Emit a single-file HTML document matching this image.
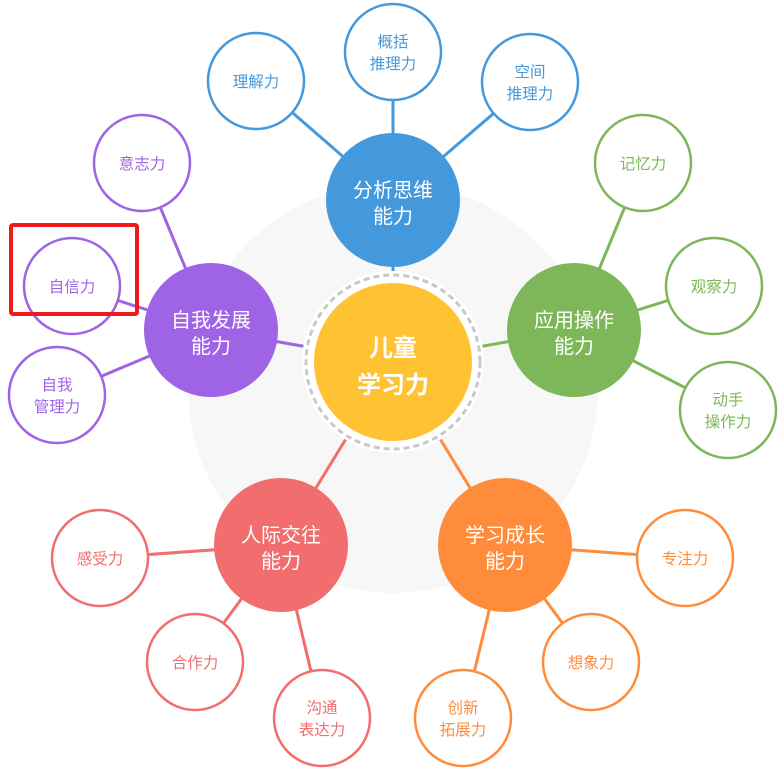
<!DOCTYPE html>
<html><head><meta charset="utf-8"><style>
html,body{margin:0;padding:0;background:#fff;}
svg{display:block;}
text{font-family:"Liberation Sans","Noto Sans CJK SC",sans-serif;text-anchor:middle;}
</style></head><body>
<svg width="784" height="775" viewBox="0 0 784 775" xmlns="http://www.w3.org/2000/svg">
<circle cx="393" cy="388" r="205" fill="#f7f7f7"/>
<g stroke-width="3">
<line x1="393" y1="362" x2="393" y2="200" stroke="#4499dd"/>
<line x1="393" y1="362" x2="574" y2="330" stroke="#7db75a"/>
<line x1="393" y1="362" x2="505" y2="545" stroke="#ff8c3a"/>
<line x1="393" y1="362" x2="281" y2="545" stroke="#f26d6d"/>
<line x1="393" y1="362" x2="211" y2="330" stroke="#9f63e6"/>
<g stroke="#4499dd"><line x1="393" y1="200" x2="256" y2="81"/><line x1="393" y1="200" x2="393" y2="52"/><line x1="393" y1="200" x2="530" y2="82"/></g>
<g stroke="#7db75a"><line x1="574" y1="330" x2="643" y2="163"/><line x1="574" y1="330" x2="714" y2="286"/><line x1="574" y1="330" x2="728" y2="410"/></g>
<g stroke="#ff8c3a"><line x1="505" y1="545" x2="685" y2="558"/><line x1="505" y1="545" x2="591" y2="662"/><line x1="505" y1="545" x2="463" y2="718"/></g>
<g stroke="#f26d6d"><line x1="281" y1="545" x2="100" y2="558"/><line x1="281" y1="545" x2="195" y2="662"/><line x1="281" y1="545" x2="322" y2="718"/></g>
<g stroke="#9f63e6"><line x1="211" y1="330" x2="142" y2="163"/><line x1="211" y1="330" x2="72" y2="286"/><line x1="211" y1="330" x2="57" y2="395"/></g>
</g>
<circle cx="393" cy="362" r="91" fill="#fff"/>
<circle cx="393" cy="362" r="87" fill="none" stroke="#c8c8c8" stroke-width="3" stroke-dasharray="6 4"/>
<circle cx="393" cy="362" r="79" fill="#ffc233"/>
<text x="393" y="356" font-size="24" font-weight="bold" fill="#fff">儿童</text>
<text x="393" y="393" font-size="24" font-weight="bold" fill="#fff">学习力</text>
<g font-size="20" fill="#fff">
<circle cx="393" cy="200" r="67" fill="#4499dd"/><text x="393" y="197">分析思维</text><text x="393" y="223">能力</text>
<circle cx="574" cy="330" r="67" fill="#7db75a"/><text x="574" y="327">应用操作</text><text x="574" y="353">能力</text>
<circle cx="505" cy="545" r="67" fill="#ff8c3a"/><text x="505" y="542">学习成长</text><text x="505" y="568">能力</text>
<circle cx="281" cy="545" r="67" fill="#f26d6d"/><text x="281" y="542">人际交往</text><text x="281" y="568">能力</text>
<circle cx="211" cy="330" r="67" fill="#9f63e6"/><text x="211" y="327">自我发展</text><text x="211" y="353">能力</text>
</g>
<g font-size="15.5" stroke-width="2.5">
<g fill="#fff" stroke="#4499dd"><circle cx="256" cy="81" r="48"/><circle cx="393" cy="52" r="48"/><circle cx="530" cy="82" r="48"/></g>
<g fill="#4499dd"><text x="256" y="87">理解力</text><text x="393" y="47">概括</text><text x="393" y="69">推理力</text><text x="530" y="77">空间</text><text x="530" y="99">推理力</text></g>
<g fill="#fff" stroke="#7db75a"><circle cx="643" cy="163" r="48"/><circle cx="714" cy="286" r="48"/><circle cx="728" cy="410" r="48"/></g>
<g fill="#7db75a"><text x="643" y="169">记忆力</text><text x="714" y="292">观察力</text><text x="728" y="405">动手</text><text x="728" y="427">操作力</text></g>
<g fill="#fff" stroke="#ff8c3a"><circle cx="685" cy="558" r="48"/><circle cx="591" cy="662" r="48"/><circle cx="463" cy="718" r="48"/></g>
<g fill="#ff8c3a"><text x="685" y="564">专注力</text><text x="591" y="668">想象力</text><text x="463" y="713">创新</text><text x="463" y="735">拓展力</text></g>
<g fill="#fff" stroke="#f26d6d"><circle cx="100" cy="558" r="48"/><circle cx="195" cy="662" r="48"/><circle cx="322" cy="718" r="48"/></g>
<g fill="#f26d6d"><text x="100" y="564">感受力</text><text x="195" y="668">合作力</text><text x="322" y="713">沟通</text><text x="322" y="735">表达力</text></g>
<g fill="#fff" stroke="#9f63e6"><circle cx="142" cy="163" r="48"/><circle cx="72" cy="286" r="48"/><circle cx="57" cy="395" r="48"/></g>
<g fill="#9f63e6"><text x="142" y="169">意志力</text><text x="72" y="292">自信力</text><text x="57" y="390">自我</text><text x="57" y="412">管理力</text></g>
</g>
<rect x="11" y="225" width="126" height="89" rx="2" fill="none" stroke="#ee1a1a" stroke-width="4"/>
</svg>
</body></html>
